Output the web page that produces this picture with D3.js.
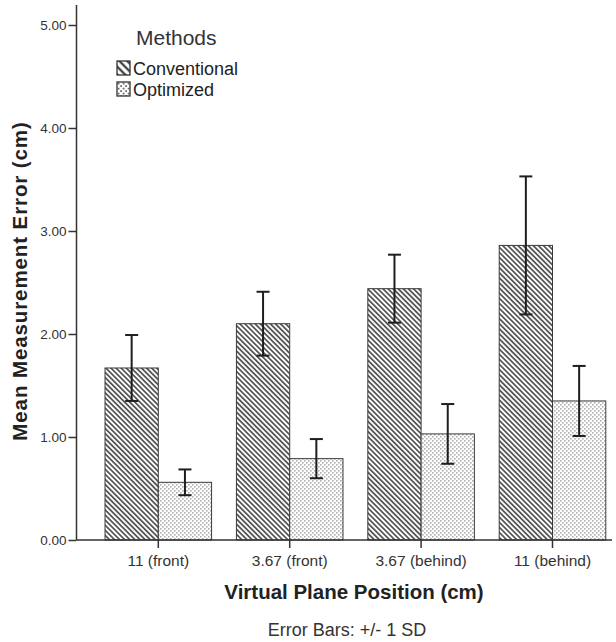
<!DOCTYPE html>
<html>
<head>
<meta charset="utf-8">
<script src="https://cdn.jsdelivr.net/npm/d3@7"></script>
<style>
  html, body { margin: 0; padding: 0; background: #fff; }
  svg { display: block; font-family: "Liberation Sans", Arial, sans-serif; }
</style>
</head>
<body>
<svg id="chart" width="616" height="642"></svg>
<script>
// Plane positions along the x axis
const categories = ["11 (front)", "3.67 (front)", "3.67 (behind)", "11 (behind)"];
const methods = ["Conventional", "Optimized"];
// Mean measurement error (cm) and standard deviation for each method
const conventionalMean = [1.67, 2.10, 2.44, 2.86];
const conventionalSD   = [0.32, 0.31, 0.33, 0.67];
const optimizedMean    = [0.56, 0.79, 1.03, 1.35];
const optimizedSD      = [0.125, 0.19, 0.29, 0.34];
const yTicks = [0, 1, 2, 3, 4, 5];

const rows = [];
categories.forEach((c, i) => {
  rows.push({ cat: c, method: methods[0], mean: conventionalMean[i], sd: conventionalSD[i] });
  rows.push({ cat: c, method: methods[1], mean: optimizedMean[i], sd: optimizedSD[i] });
});

const svg = d3.select("#chart");
const axisX = 76.5, axisTop = 5, axisRight = 612;
const textColor = "#222";

// Fill patterns: diagonal hatch and fine dots
const defs = svg.append("defs");
function hatch(id, size, width) {
  const p = defs.append("pattern").attr("id", id)
    .attr("patternUnits", "userSpaceOnUse")
    .attr("width", size).attr("height", size)
    .attr("patternTransform", "rotate(45)");
  p.append("rect").attr("width", size).attr("height", size).attr("fill", "#fff");
  p.append("line").attr("x1", -1).attr("x2", size + 1)
    .attr("y1", size / 2).attr("y2", size / 2)
    .attr("stroke", "#444").attr("stroke-width", width);
}
function dots(id, size, r, color) {
  const p = defs.append("pattern").attr("id", id)
    .attr("patternUnits", "userSpaceOnUse")
    .attr("width", size).attr("height", size);
  p.append("rect").attr("width", size).attr("height", size).attr("fill", "#fff");
  p.append("rect").attr("x", 0.2).attr("y", 0.2).attr("width", r).attr("height", r).attr("fill", color);
  p.append("rect").attr("x", size / 2 + 0.2).attr("y", size / 2 + 0.2).attr("width", r).attr("height", r).attr("fill", color);
}
hatch("hatchBar", 3.6, 1.6);
hatch("hatchKey", 5.5, 2.3);
dots("dotBar", 4, 1.3, "#858585");
dots("dotKey", 5, 1.8, "#707070");
const fillFor = { Conventional: "url(#hatchBar)", Optimized: "url(#dotBar)" };
const keyFill = { Conventional: "url(#hatchKey)", Optimized: "url(#dotKey)" };

// Scales
const y = d3.scaleLinear().domain([0, 5]).range([540, 25]);
const x = d3.scaleBand().domain(categories).range([92.6, 618.2])
  .paddingInner(0.189).paddingOuter(0.0945);
const xm = d3.scaleBand().domain(methods).range([0, x.bandwidth()]);

// Bars
svg.append("g").selectAll("rect").data(rows).join("rect")
  .attr("x", d => x(d.cat) + xm(d.method))
  .attr("y", d => y(d.mean))
  .attr("width", xm.bandwidth())
  .attr("height", d => y(0) - y(d.mean))
  .attr("fill", d => fillFor[d.method])
  .attr("stroke", "#3a3a3a").attr("stroke-width", 1);

// Error bars (+/- 1 SD)
const cap = 6.5;
const eb = svg.append("g").attr("stroke", "#1e1e1e").attr("stroke-width", 2).attr("fill", "none");
rows.forEach(d => {
  const cx = x(d.cat) + xm(d.method) + xm.bandwidth() / 2;
  const top = y(d.mean + d.sd), bot = y(d.mean - d.sd);
  eb.append("line").attr("x1", cx).attr("x2", cx).attr("y1", top).attr("y2", bot);
  eb.append("line").attr("x1", cx - cap).attr("x2", cx + cap).attr("y1", top).attr("y2", top);
  eb.append("line").attr("x1", cx - cap).attr("x2", cx + cap).attr("y1", bot).attr("y2", bot);
});

// Y axis
const gy = svg.append("g").attr("transform", `translate(${axisX},0)`)
  .call(d3.axisLeft(y).tickValues(yTicks).tickFormat(d3.format(".2f")).tickSize(8).tickPadding(2).tickSizeOuter(0));
gy.select(".domain").remove();
gy.selectAll(".tick line").attr("stroke", "#333").attr("stroke-width", 1.5);
gy.selectAll(".tick text").attr("fill", "#333").style("font-size", "13.5px")
  .style("font-family", "'Liberation Sans', Arial, sans-serif");
svg.append("line").attr("x1", axisX).attr("x2", axisX).attr("y1", axisTop).attr("y2", y(0))
  .attr("stroke", "#333").attr("stroke-width", 1.5);

// X axis
const gx = svg.append("g").attr("transform", `translate(0,${y(0)})`)
  .call(d3.axisBottom(x).tickSize(8).tickPadding(7).tickSizeOuter(0));
gx.select(".domain").remove();
gx.selectAll(".tick line").attr("stroke", "#333").attr("stroke-width", 1.5);
gx.selectAll(".tick text").attr("fill", "#333").style("font-size", "15.5px")
  .style("font-family", "'Liberation Sans', Arial, sans-serif");
svg.append("line").attr("x1", axisX).attr("x2", axisRight).attr("y1", y(0)).attr("y2", y(0))
  .attr("stroke", "#333").attr("stroke-width", 1.5);

// Axis titles and footnote
svg.append("text").attr("transform", "translate(27,281) rotate(-90)")
  .attr("text-anchor", "middle").attr("fill", textColor)
  .style("font-size", "20.5px").style("font-weight", "bold").style("letter-spacing", "0.9px")
  .text("Mean Measurement Error (cm)");
svg.append("text").attr("x", 354).attr("y", 599)
  .attr("text-anchor", "middle").attr("fill", textColor)
  .style("font-size", "20.5px").style("font-weight", "bold")
  .text("Virtual Plane Position (cm)");
svg.append("text").attr("x", 347).attr("y", 636)
  .attr("text-anchor", "middle").attr("fill", "#333")
  .style("font-size", "18px")
  .text("Error Bars: +/- 1 SD");

// Legend
const lg = svg.append("g");
lg.append("text").attr("x", 136).attr("y", 45).attr("fill", "#333")
  .style("font-size", "21px").text("Methods");
methods.forEach((m, i) => {
  const yy = 61 + i * 21;
  lg.append("rect").attr("x", 117).attr("y", yy).attr("width", 13).attr("height", 14)
    .attr("fill", keyFill[m]).attr("stroke", "#333").attr("stroke-width", 1.3);
  lg.append("text").attr("x", 133).attr("y", yy + 14).attr("fill", "#222")
    .style("font-size", "18px").text(m);
});
</script>
</body>
</html>
